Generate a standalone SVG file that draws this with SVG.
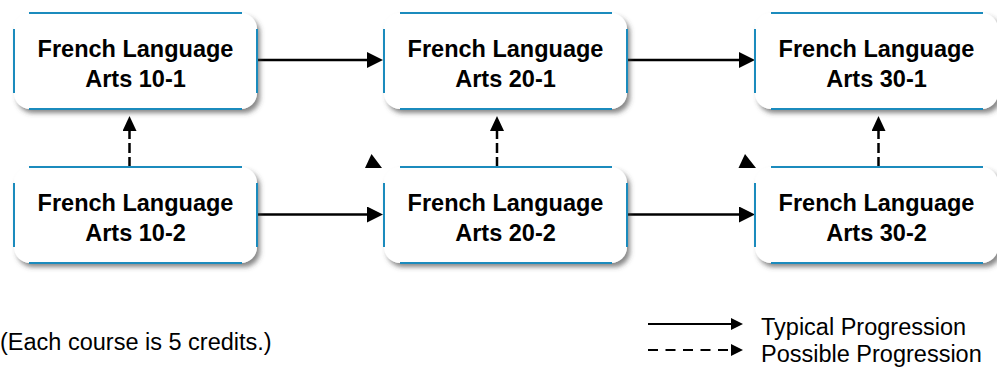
<svg xmlns="http://www.w3.org/2000/svg" width="997" height="370" viewBox="0 0 997 370">
<defs>
<style>
.box{fill:#ffffff;filter:url(#sh);}
.edge{stroke:#1b8bbd;stroke-width:2;fill:none;}
.lbl{font-family:"Liberation Sans",Arial,sans-serif;font-weight:bold;font-size:23.5px;fill:#000;text-anchor:middle;}
.txt{font-family:"Liberation Sans",Arial,sans-serif;font-size:23.5px;fill:#000;}
.solid{stroke:#000;stroke-width:2.5;fill:none;}
.dash{stroke:#000;stroke-width:2.5;fill:none;stroke-dasharray:10 4;}
</style>
<filter id="sh" x="-10%" y="-10%" width="125%" height="130%">
<feDropShadow dx="3" dy="4" stdDeviation="2.5" flood-color="#444" flood-opacity="0.65"/>
</filter>
<marker id="ah" viewBox="0 0 16 16" refX="1" refY="8" markerWidth="16" markerHeight="16" markerUnits="userSpaceOnUse" orient="auto">
<path d="M0,0 L16,8 L0,16 z" fill="#000"/>
</marker>
<marker id="av" viewBox="0 0 15 14" refX="1" refY="7" markerWidth="15" markerHeight="14" markerUnits="userSpaceOnUse" orient="auto">
<path d="M0,0 L15,7 L0,14 z" fill="#000"/>
</marker>
<marker id="al" viewBox="0 0 12 12" refX="1" refY="6" markerWidth="12" markerHeight="12" markerUnits="userSpaceOnUse" orient="auto">
<path d="M0,0 L12,6 L0,12 z" fill="#000"/>
</marker>
</defs>
<rect width="997" height="370" fill="#ffffff"/>

<g id="connectors">
<line class="solid" x1="257" y1="60" x2="368" y2="60" marker-end="url(#ah)"/>
<line class="solid" x1="627" y1="60" x2="740" y2="60" marker-end="url(#ah)"/>
<line class="solid" x1="257" y1="214.5" x2="368" y2="214.5" marker-end="url(#ah)"/>
<line class="solid" x1="627" y1="214.5" x2="740" y2="214.5" marker-end="url(#ah)"/>
<line class="dash" x1="129.5" y1="167" x2="129.5" y2="130" marker-end="url(#av)"/>
<line class="dash" x1="497" y1="167" x2="497" y2="130" marker-end="url(#av)"/>
<line class="dash" x1="878.5" y1="167" x2="878.5" y2="130" marker-end="url(#av)"/>
<polygon points="371.5,154 365,168 382,168" fill="#000"/>
<polygon points="745,154 738.5,168 756,168" fill="#000"/>
</g>

<g id="fla10-1">
<rect class="box" x="14" y="13" width="243" height="96" rx="16"/>
<path class="edge" d="M29,13 H242 M29,109 H242 M14,29 V93 M257,29 V93"/>
<text class="lbl" x="135.5" y="57">French Language</text>
<text class="lbl" x="135.5" y="87">Arts 10-1</text>
</g>
<g id="fla20-1">
<rect class="box" x="384" y="13" width="243" height="96" rx="16"/>
<path class="edge" d="M400,13 H612 M400,109 H612 M384,29 V93 M627,29 V93"/>
<text class="lbl" x="505.5" y="57">French Language</text>
<text class="lbl" x="505.5" y="87">Arts 20-1</text>
</g>
<g id="fla30-1">
<rect class="box" x="755" y="13" width="243" height="96" rx="16"/>
<path class="edge" d="M771,13 H983 M771,109 H983 M755,29 V93"/>
<text class="lbl" x="876.5" y="57">French Language</text>
<text class="lbl" x="876.5" y="87">Arts 30-1</text>
</g>
<g id="fla10-2">
<rect class="box" x="14" y="167" width="243" height="96" rx="16"/>
<path class="edge" d="M29,167 H242 M29,263 H242 M14,183 V247 M257,183 V247"/>
<text class="lbl" x="135.5" y="211">French Language</text>
<text class="lbl" x="135.5" y="241">Arts 10-2</text>
</g>
<g id="fla20-2">
<rect class="box" x="384" y="167" width="243" height="96" rx="16"/>
<path class="edge" d="M400,167 H612 M400,263 H612 M384,183 V247 M627,183 V247"/>
<text class="lbl" x="505.5" y="211">French Language</text>
<text class="lbl" x="505.5" y="241">Arts 20-2</text>
</g>
<g id="fla30-2">
<rect class="box" x="755" y="167" width="243" height="96" rx="16"/>
<path class="edge" d="M771,167 H983 M771,263 H983 M755,183 V247"/>
<text class="lbl" x="876.5" y="211">French Language</text>
<text class="lbl" x="876.5" y="241">Arts 30-2</text>
</g>

<g id="legend">
<line x1="648" y1="324" x2="732" y2="324" stroke="#000" stroke-width="2" marker-end="url(#al)"/>
<line x1="648" y1="350" x2="732" y2="350" stroke="#000" stroke-width="2" stroke-dasharray="10 7.5" marker-end="url(#al)"/>
<text class="txt" x="761" y="335">Typical Progression</text>
<text class="txt" x="761" y="362">Possible Progression</text>
</g>
<text id="note" class="txt" x="0" y="350">(Each course is 5 credits.)</text>
</svg>
